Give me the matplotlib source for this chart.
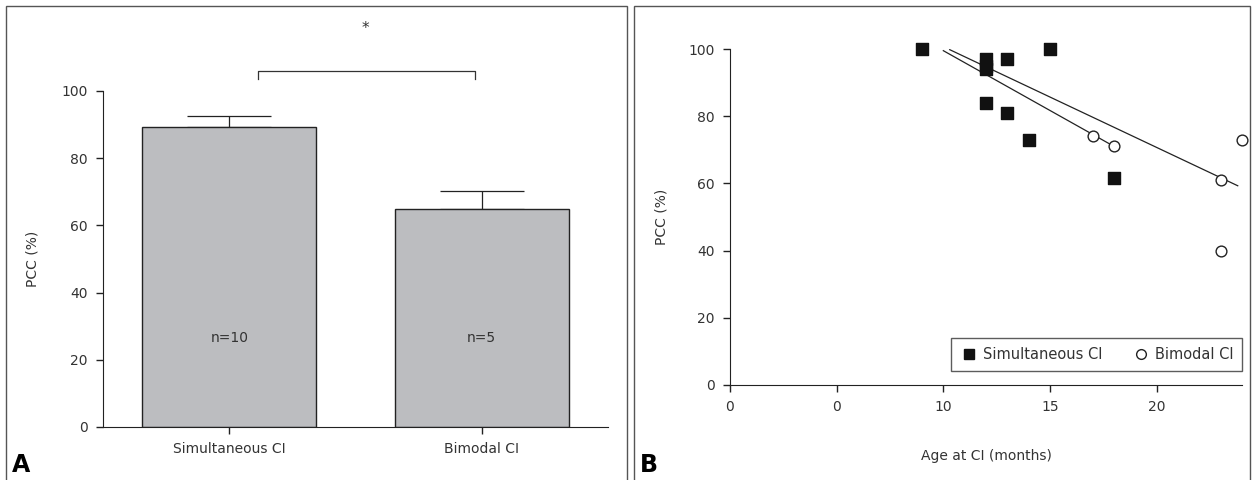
import numpy as np
import matplotlib
matplotlib.use('Agg')
import matplotlib.pyplot as plt
from matplotlib.patches import Rectangle
from matplotlib.lines import Line2D

plt.rcParams['font.family'] = ['DejaVu Sans']
plt.rcParams['font.size'] = 10

# Panel A data
groups = ['Simultaneous CI', 'Bimodal CI']
group_means = [89.2, 64.8]
group_err = [3.4, 5.3]
group_n = ['n=10', 'n=5']

# Panel B data
sim_age = [9, 12, 12, 12, 12, 13, 13, 14, 15, 18]
sim_pcc = [100, 97, 95, 94, 84, 97, 81, 73, 100, 61.5]
bim_age = [17, 18, 23, 23, 24]
bim_pcc = [74, 71, 61, 40, 73]
# fitted lines: (x start, x end, slope, intercept)
fit_lines = [(10.0, 18.0, -3.56, 135.1), (10.3, 23.8, -3.0, 130.7)]
xticks_b = [0, 5, 10, 15, 20]
xticklabels_b = ['0', '0', '10', '15', '20']

txt = '#333333'
fig = plt.figure(figsize=(12.53, 4.8), dpi=100)

# panel frames
fig.patches.append(Rectangle((6 / 1253, -0.05), 621 / 1253, 1.05 - 6 / 480,
                             transform=fig.transFigure, fill=False, ec='#555555', lw=1))
fig.patches.append(Rectangle((634 / 1253, -0.05), 616 / 1253, 1.05 - 6 / 480,
                             transform=fig.transFigure, fill=False, ec='#555555', lw=1))

# ---- Panel A ----
ax1 = fig.add_axes([103 / 1253, 1 - 427 / 480, 505 / 1253, 336 / 480])
x = np.arange(len(groups))
ax1.bar(x, group_means, width=0.69, color='#bcbdc0', edgecolor='#222222', lw=1, zorder=2)
ax1.errorbar(x, group_means, yerr=[[0, 0], group_err], fmt='none', ecolor='#222222',
             elinewidth=0.9, capsize=30, capthick=0.9, zorder=1)
for xi, lab in zip(x, group_n):
    ax1.text(xi, 26.5, lab, ha='center', va='center', color=txt, fontsize=10)
ax1.plot([0.115, 0.115, 0.972, 0.972], [103.5, 106, 106, 103.5], color='#333333', lw=0.9,
         clip_on=False)
ax1.text(0.54, 118.5, '*', ha='center', va='center', color=txt, fontsize=11)
ax1.set_xlim(-0.5, 1.5)
ax1.set_ylim(0, 100)
ax1.set_yticks([0, 20, 40, 60, 80, 100])
ax1.set_xticks(x)
ax1.set_xticklabels(groups)
ax1.set_ylabel('PCC (%)', color=txt, labelpad=16)
for s in ['top', 'right']:
    ax1.spines[s].set_visible(False)
for s in ['left', 'bottom']:
    ax1.spines[s].set_color('#222222')
ax1.tick_params(direction='out', length=5, width=1, colors='#222222', labelcolor=txt, pad=6)
fig.text(12 / 1253, 1 - 465 / 480, 'A', fontsize=17, fontweight='bold', va='center')

# ---- Panel B ----
ax2 = fig.add_axes([730 / 1253, 1 - 385 / 480, 512 / 1253, 336 / 480])
for x0, x1, m, b in fit_lines:
    xs = np.array([x0, x1])
    ax2.plot(xs, m * xs + b, color='#222222', lw=0.9, zorder=1)
ax2.scatter(sim_age, sim_pcc, marker='s', s=64, color='#111111', zorder=3,
            label='Simultaneous CI', clip_on=False)
ax2.scatter(bim_age, bim_pcc, marker='o', s=60, facecolor='white', edgecolor='#222222',
            lw=1, zorder=3, label='Bimodal CI', clip_on=False)
ax2.set_xlim(0, 24)
ax2.set_ylim(0, 100)
ax2.set_xticks(xticks_b)
ax2.set_xticklabels(xticklabels_b)
ax2.set_yticks([0, 20, 40, 60, 80, 100])
ax2.set_ylabel('PCC (%)', color=txt, labelpad=14)
ax2.set_xlabel('Age at CI (months)', color=txt, labelpad=25)
for s in ['top', 'right']:
    ax2.spines[s].set_visible(False)
for s in ['left', 'bottom']:
    ax2.spines[s].set_color('#222222')
ax2.tick_params(direction='out', length=5, width=1, colors='#222222', labelcolor=txt, pad=6)
handles = [Line2D([], [], marker='s', ls='none', color='#111111', markersize=7),
           Line2D([], [], marker='o', ls='none', mfc='white', mec='#222222', markersize=7)]
leg = ax2.legend(handles, ['Simultaneous CI', 'Bimodal CI'], loc='lower right', ncol=2,
                 bbox_to_anchor=(1.0, 0.042), borderaxespad=0, frameon=True, fancybox=False,
                 edgecolor='#333333', handletextpad=0.3, columnspacing=2.0, handlelength=1.3,
                 fontsize=10.5, borderpad=0.6)
for t in leg.get_texts():
    t.set_color(txt)
leg.get_frame().set_linewidth(1)
fig.text(640 / 1253, 1 - 465 / 480, 'B', fontsize=17, fontweight='bold', va='center')

fig.savefig('out.png', dpi=100)
